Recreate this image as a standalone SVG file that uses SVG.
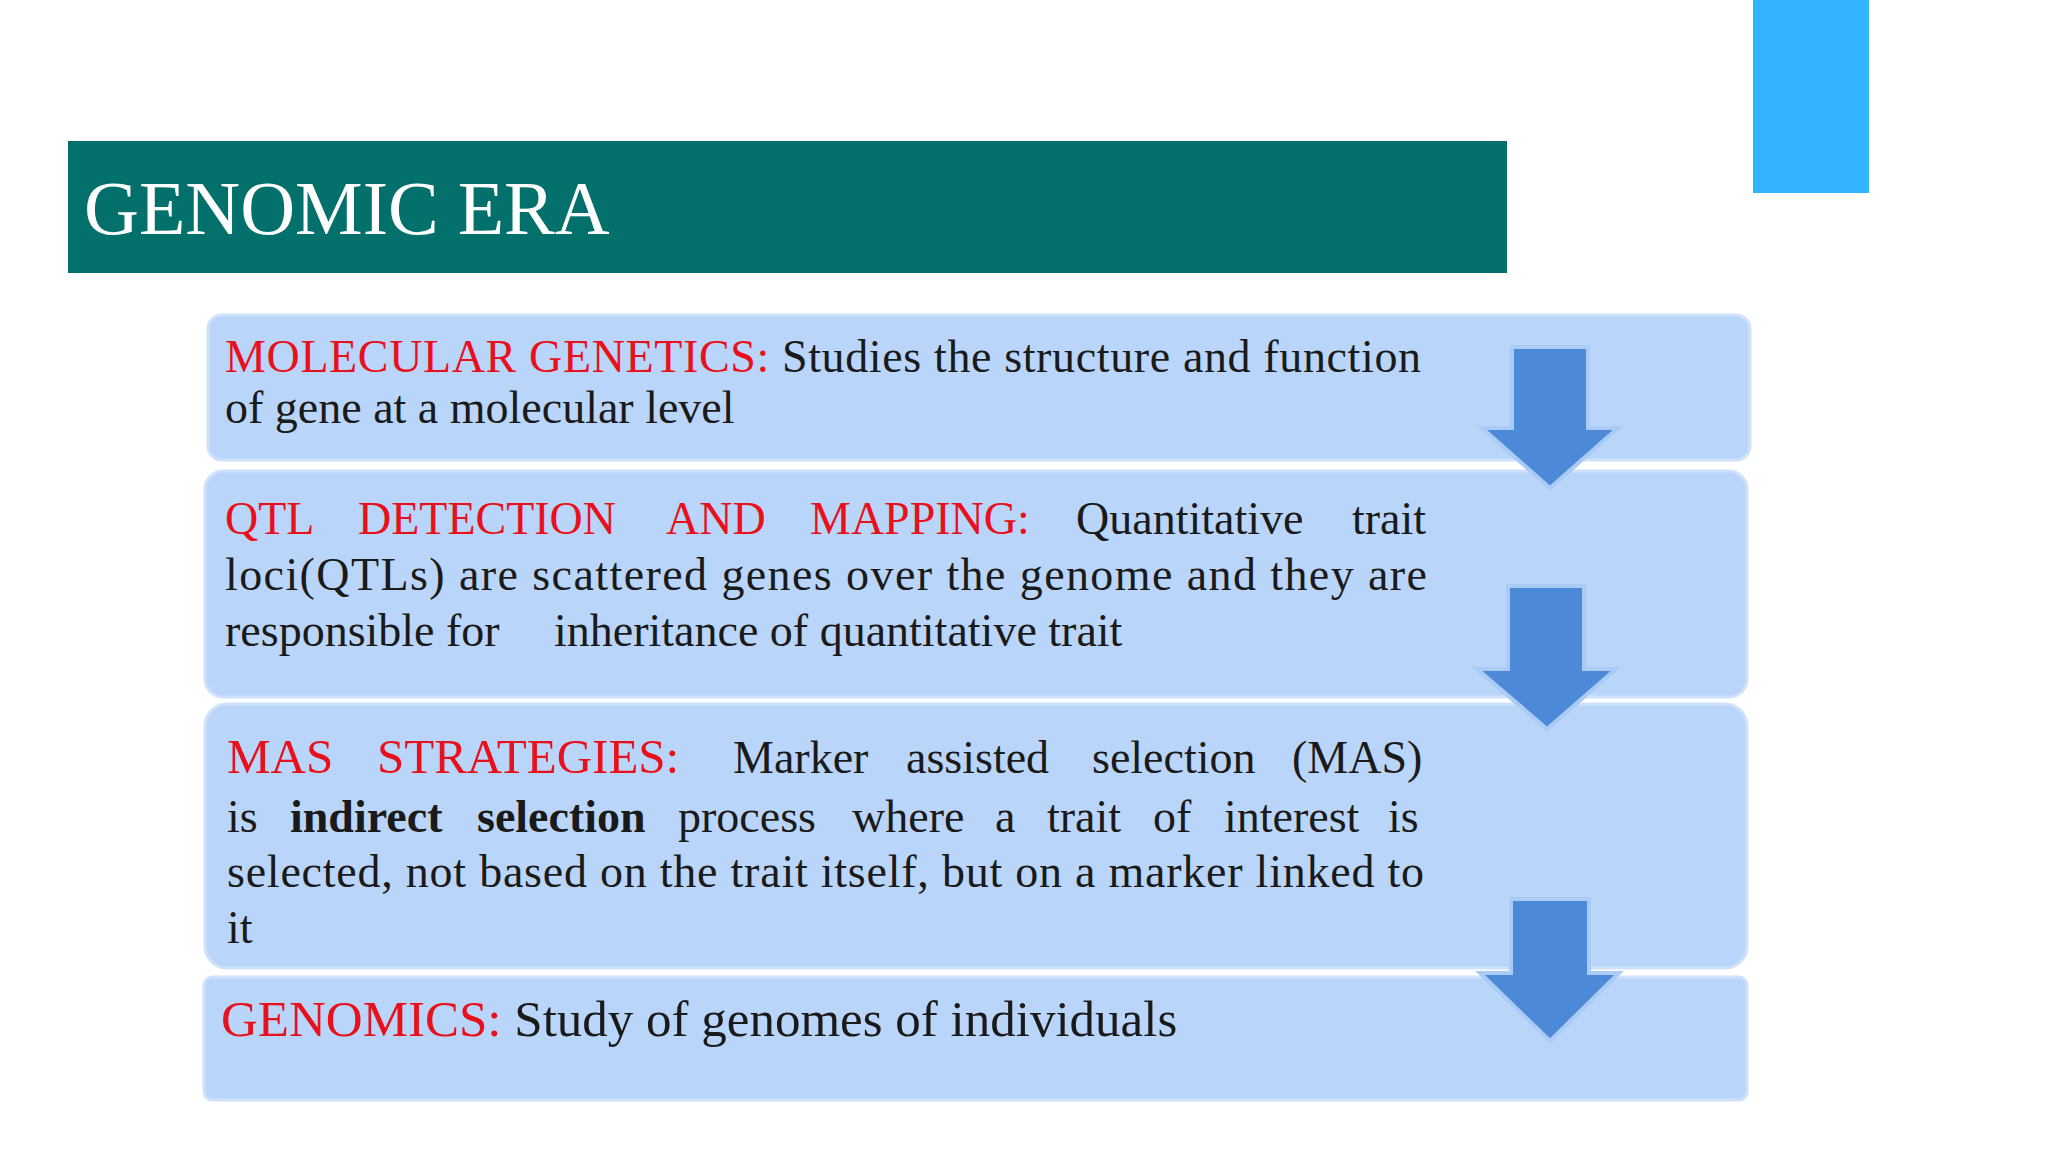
<svg xmlns="http://www.w3.org/2000/svg" width="2048" height="1152" viewBox="0 0 2048 1152">
<style>
.box{fill:#BAD5FA;stroke:#CFE1FB;stroke-width:3}
.arr{fill:#4C89D6;stroke:#A9CBF6;stroke-width:4;stroke-linejoin:miter}
text{font-family:"Liberation Serif","Times New Roman",serif;font-size:46px;fill:#1a1a1a}
.r{fill:#E8101A}
</style>
<rect width="2048" height="1152" fill="#ffffff"/>
<rect x="1753" y="0" width="116" height="193" fill="#33B4FE"/>
<g id="header"><rect x="68" y="141" width="1439" height="132" fill="#03706C"/>
<text x="84" y="234" style="font-size:76px;fill:#ffffff">GENOMIC ERA</text></g>
<g id="n1"><rect class="box" x="208" y="315" width="1542" height="145" rx="14"/>
<text x="225" y="372" textLength="1196" lengthAdjust="spacing"><tspan class="r">MOLECULAR GENETICS:</tspan> Studies the structure and function</text>
<text x="225" y="423">of gene at a molecular level</text></g>
<g id="n2"><rect class="box" x="205" y="471" width="1542" height="226" rx="18"/>
<text y="534"><tspan class="r" x="225">QTL</tspan><tspan class="r" x="358">DETECTION</tspan><tspan class="r" x="666">AND</tspan><tspan class="r" x="810">MAPPING:</tspan><tspan x="1076">Quantitative</tspan><tspan x="1352">trait</tspan></text>
<text x="225" y="590" textLength="1202" lengthAdjust="spacing">loci(QTLs) are scattered genes over the genome and they are</text>
<text y="646"><tspan x="225">responsible for</tspan><tspan x="554">inheritance of quantitative trait</tspan></text></g>
<g id="n3"><rect class="box" x="205" y="704" width="1542" height="264" rx="22"/>
<text y="773" style="font-size:49px"><tspan class="r" x="227">MAS</tspan><tspan class="r" x="377">STRATEGIES:</tspan><tspan x="733" style="font-size:46px">Marker</tspan><tspan x="906" style="font-size:46px">assisted</tspan><tspan x="1092" style="font-size:46px">selection</tspan><tspan x="1292" style="font-size:46px">(MAS)</tspan></text>
<text y="832"><tspan x="227">is</tspan><tspan x="290" font-weight="bold">indirect</tspan><tspan x="477" font-weight="bold">selection</tspan><tspan x="678">process</tspan><tspan x="852">where</tspan><tspan x="995">a</tspan><tspan x="1047">trait</tspan><tspan x="1153">of</tspan><tspan x="1224">interest</tspan><tspan x="1388">is</tspan></text>
<text x="227" y="887" textLength="1197" lengthAdjust="spacing">selected, not based on the trait itself, but on a marker linked to</text>
<text x="227" y="943">it</text></g>
<g id="n4"><rect class="box" x="204" y="977" width="1543" height="123" rx="8"/>
<text x="221" y="1036" style="font-size:51px"><tspan class="r">GENOMICS:</tspan> Study of genomes of individuals</text></g>
<g id="connectors">
<polygon class="arr" points="1512,347 1588,347 1588,428 1618,428 1550,488 1482,428 1512,428"/>
<polygon class="arr" points="1508,586 1584,586 1584,669 1616,669 1547,729 1477,669 1508,669"/>
<polygon class="arr" points="1511,899 1589,899 1589,973 1619,973 1550,1041 1480,973 1511,973"/>
</g>
</svg>
